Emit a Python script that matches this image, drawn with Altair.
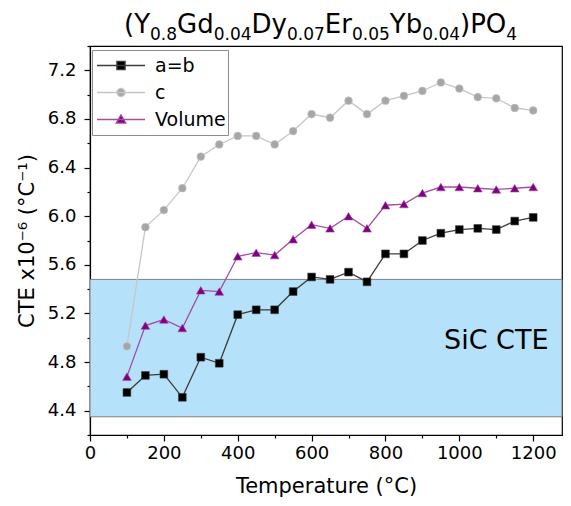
import altair as alt
import pandas as pd

# ---------------- data ----------------
temps = [100, 150, 200, 250, 300, 350, 400, 450, 500, 550, 600, 650,
         700, 750, 800, 850, 900, 950, 1000, 1050, 1100, 1150, 1200]
ab_vals = [4.55, 4.69, 4.70, 4.51, 4.84, 4.79, 5.19, 5.23, 5.23, 5.38, 5.50, 5.48,
           5.54, 5.46, 5.69, 5.69, 5.80, 5.86, 5.89, 5.90, 5.89, 5.96, 5.99]
c_vals = [4.93, 5.91, 6.05, 6.23, 6.49, 6.59, 6.66, 6.66, 6.59, 6.70, 6.84, 6.81,
          6.95, 6.84, 6.95, 6.99, 7.03, 7.10, 7.05, 6.98, 6.97, 6.89, 6.87]
vol_vals = [4.68, 5.10, 5.15, 5.08, 5.39, 5.38, 5.67, 5.70, 5.68, 5.81, 5.93, 5.90,
            6.00, 5.90, 6.09, 6.10, 6.19, 6.24, 6.24, 6.23, 6.22, 6.23, 6.24]
series_names = ["a=b", "c", "Volume"]
marker_colors = ["#000000", "#A6A6A6", "#800080"]
line_colors = ["#3C3C3C", "#C6C6C6", "#A24EA2"]
marker_shapes = ["square", "circle", "triangle-up"]
marker_sizes = [60, 60, 76]
legend_paths = [
    "M-1,0H1M-0.17,-0.17H0.17V0.17H-0.17Z",
    "M-1,0H1M0.17,0A0.17,0.17,0,1,1,-0.17,0A0.17,0.17,0,1,1,0.17,0Z",
    "M-1,0H1M0,-0.2L0.2,0.15H-0.2Z",
]

x_max = 1278
x_ticks = list(range(0, 1201, 100))
y_ticks = [round(4.2 + 0.2 * i, 1) for i in range(17)]

sic_x = [0, x_max]
sic_y = [4.35, 5.48]
sic_label = "SiC CTE"
sic_label_pos = (1100, 4.97)

title_parts = [("(Y", "big"), ("0.8", "sub"), ("Gd", "big"), ("0.04", "sub"),
               ("Dy", "big"), ("0.07", "sub"), ("Er", "big"), ("0.05", "sub"),
               ("Yb", "big"), ("0.04", "sub"), (")PO", "big"), ("4", "sub")]

FONT = "DejaVu Sans"

# ---------------- tables ----------------
rows = []
for name, vals in zip(series_names, [ab_vals, c_vals, vol_vals]):
    for t, v in zip(temps, vals):
        rows.append({"x": t, "y": v, "series": name})
df = pd.DataFrame(rows)

band = pd.DataFrame({"x": [sic_x[0]], "x2": [sic_x[1]], "y": [sic_y[0]], "y2": [sic_y[1]]})
band_txt = pd.DataFrame({"x": [sic_label_pos[0]], "y": [sic_label_pos[1]], "t": [sic_label]})

# title segments laid out with DejaVu Sans advance widths (em units)
adv = {"(": 0.390, ")": 0.390, "Y": 0.611, "G": 0.775, "d": 0.635, "D": 0.770,
       "y": 0.592, "E": 0.632, "r": 0.411, "b": 0.635, "P": 0.603, "O": 0.787,
       ".": 0.318}
for dgt in "0123456789":
    adv[dgt] = 0.636
BIG, SUB = 26, 17
cur = 34.0
trows = []
for txt, kind in title_parts:
    fs = BIG if kind == "big" else SUB
    py = -13 if kind == "big" else -6
    trows.append({"px": cur, "py": py, "fs": fs, "t": txt})
    cur += sum(adv[ch] for ch in txt) * fs
title_df = pd.DataFrame(trows)

# ---------------- axes ----------------
ax_x = alt.Axis(
    title="Temperature (°C)", values=x_ticks, format="d",
    labelExpr="datum.value % 200 === 0 ? datum.label : ''",
    tickSize={"condition": {"test": "datum.value % 200 === 0", "value": 6}, "value": 3},
    grid=False, labelFlush=False, labelOverlap=False, labelPadding=3, titlePadding=13,
    domainColor="black", tickColor="black", labelColor="black", titleColor="black",
    labelFont=FONT, titleFont=FONT, labelFontSize=18, titleFontSize=21,
    titleFontWeight="normal", domainWidth=1.2, tickWidth=1.2)
ax_y = alt.Axis(
    title="CTE x10⁻⁶ (°C⁻¹)", values=y_ticks, format=".1f",
    labelExpr="round(datum.value * 10) % 4 === 0 ? datum.label : ''",
    tickSize={"condition": {"test": "round(datum.value * 10) % 4 === 0", "value": 6}, "value": 3},
    grid=False, labelFlush=False, labelOverlap=False, labelPadding=8, titlePadding=10,
    domainColor="black", tickColor="black", labelColor="black", titleColor="black",
    labelFont=FONT, titleFont=FONT, labelFontSize=18, titleFontSize=21,
    titleFontWeight="normal", domainWidth=1.2, tickWidth=1.2)

X = alt.X("x:Q", scale=alt.Scale(domain=[0, x_max], nice=False, zero=False), axis=ax_x)
Y = alt.Y("y:Q", scale=alt.Scale(domain=[4.2, 7.4], nice=False, zero=False), axis=ax_y)

# ---------------- legend ----------------
legend = alt.Legend(
    orient="none", legendX=2, legendY=4, title=None, direction="vertical",
    strokeColor="#8C8C8C", fillColor="white", padding=2,
    labelFont=FONT, labelFontSize=19, labelColor="black",
    symbolSize=2304, symbolStrokeWidth=1.3, symbolOffset=2, labelOffset=9,
    clipHeight=27, rowPadding=0, symbolOpacity=1)

# ---------------- layers ----------------
band_layer = alt.Chart(band).mark_rect(fill="#B5E2FA", stroke="#808080", strokeWidth=1).encode(
    x=X, x2="x2:Q", y=Y, y2="y2:Q")
band_text = alt.Chart(band_txt).mark_text(font=FONT, fontSize=27, color="black").encode(
    x=X, y=Y, text="t:N")

line_layers = []
point_layers = []
for name, lc, mc, shp, sz in zip(series_names, line_colors, marker_colors, marker_shapes, marker_sizes):
    line_layers.append(
        alt.Chart(df).transform_filter(alt.datum.series == name)
        .mark_line(color=lc, strokeWidth=1.3).encode(x=X, y=Y))
    point_layers.append(
        alt.Chart(df).transform_filter(alt.datum.series == name)
        .mark_point(filled=True, opacity=1, fill=mc, stroke=lc, strokeWidth=0.6,
                    shape=shp, size=sz).encode(x=X, y=Y))

# legend-only layer (draws no marks; explicit domains drive the legend)
legend_layer = alt.Chart(df).transform_filter("false").mark_point(filled=True, opacity=1).encode(
    x=X, y=Y,
    fill=alt.Fill("series:N", scale=alt.Scale(domain=series_names, range=marker_colors), legend=legend),
    stroke=alt.Stroke("series:N", scale=alt.Scale(domain=series_names, range=line_colors), legend=legend),
    shape=alt.Shape("series:N", scale=alt.Scale(domain=series_names, range=legend_paths), legend=legend),
)

title_layer = alt.Chart(title_df).mark_text(
    align="left", baseline="alphabetic", font=FONT, color="black").encode(
    x=alt.X("px:Q", scale=None, axis=None),
    y=alt.Y("py:Q", scale=None, axis=None),
    size=alt.Size("fs:Q", scale=None, legend=None),
    text="t:N")

chart = alt.layer(band_layer, band_text, *line_layers, *point_layers, legend_layer, title_layer).properties(
    width=472, height=389,
    autosize=alt.AutoSizeParams(type="none"),
    padding={"left": 82, "top": 38, "right": 1, "bottom": 63},
).configure_view(stroke="black", strokeWidth=1.2)

chart.save("out.html", embed_options={"renderer": "svg", "actions": False})
